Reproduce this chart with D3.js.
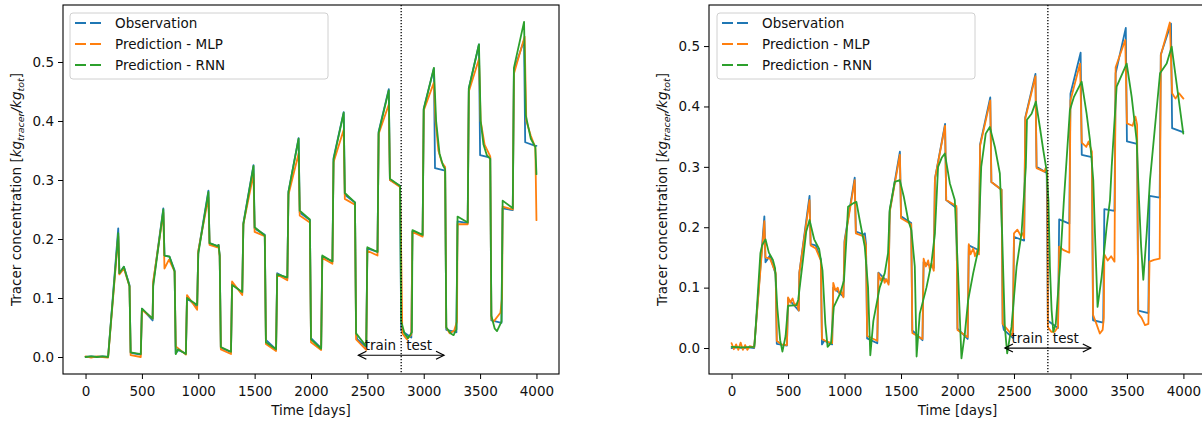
<!DOCTYPE html>
<html>
<head>
<meta charset="utf-8">
<script src="https://cdn.jsdelivr.net/npm/d3@7"></script>
<style>
  html, body { margin: 0; padding: 0; background: #fff; }
  svg { display: block; font-family: "DejaVu Sans", sans-serif; }
</style>
</head>
<body>
<svg id="chart" width="1202" height="423"></svg>
<script>
// Time axis ticks and concentration ticks
const dayTicks = [0, 500, 1000, 1500, 2000, 2500, 3000, 3500, 4000];
const concTicks = [0.0, 0.1, 0.2, 0.3, 0.4, 0.5];
const seriesNames = ["Observation", "Prediction - MLP", "Prediction - RNN"];
const seriesColors = ["#1f77b4", "#ff7f0e", "#2ca02c"];
const splitDay = 2800;

// Observed tracer concentration, [day, value]
const observation = [
  [0,0],[50,0.001],[100,0],[150,0.001],[200,0],
  [290,0.218],[300,0.142],[340,0.153],[390,0.122],
  [400,0.007],[490,0.004],
  [500,0.082],[595,0.062],
  [600,0.125],[690,0.252],[700,0.172],[745,0.17],[790,0.147],
  [800,0.006],[820,0.012],[890,0.006],
  [900,0.1],[990,0.085],
  [1000,0.178],[1090,0.282],[1100,0.193],[1170,0.188],[1180,0.19],[1190,0.172],
  [1200,0.016],[1290,0.008],
  [1300,0.125],[1390,0.108],
  [1400,0.227],[1490,0.325],[1500,0.218],[1590,0.207],
  [1600,0.029],[1690,0.013],
  [1700,0.142],[1790,0.133],
  [1800,0.28],[1890,0.371],[1900,0.245],[1990,0.232],
  [2000,0.032],[2090,0.015],
  [2100,0.17],[2190,0.162],
  [2200,0.337],[2290,0.415],[2300,0.275],[2390,0.262],
  [2400,0.04],[2410,0.03],[2490,0.017],
  [2500,0.184],[2590,0.178],
  [2600,0.382],[2690,0.454],[2700,0.3],[2790,0.29],
  [2800,0.045],[2890,0.033],
  [2900,0.213],[2990,0.206],
  [3000,0.421],[3090,0.489],[3100,0.32],[3190,0.316],
  [3200,0.046],[3290,0.042],
  [3300,0.23],[3390,0.227],
  [3400,0.455],[3490,0.53],[3500,0.342],[3590,0.338],
  [3600,0.062],[3690,0.058],
  [3700,0.252],[3790,0.249],
  [3800,0.486],[3890,0.537],[3900,0.364],[3990,0.358],[4000,0.358]
];

// Left panel predictions
const mlpLeft = [
  [0,0.001],[50,-0.001],[100,0.001],[150,0],[200,-0.001],
  [290,0.205],[300,0.14],[340,0.15],[390,0.12],
  [400,0.003],[490,0.0],
  [500,0.08],[595,0.065],
  [600,0.128],[690,0.245],[700,0.15],[740,0.165],[790,0.145],
  [800,0.018],[820,0.015],[890,0.004],
  [900,0.105],[990,0.08],
  [1000,0.18],[1090,0.27],[1100,0.19],[1170,0.186],[1180,0.188],[1190,0.17],
  [1200,0.013],[1290,0.005],
  [1300,0.128],[1390,0.105],
  [1400,0.225],[1490,0.31],[1500,0.212],[1590,0.205],
  [1600,0.022],[1690,0.01],
  [1700,0.14],[1790,0.13],
  [1800,0.275],[1890,0.345],[1900,0.24],[1990,0.228],
  [2000,0.025],[2090,0.012],
  [2100,0.168],[2190,0.158],
  [2200,0.33],[2290,0.385],[2300,0.268],[2390,0.258],
  [2400,0.03],[2490,0.012],
  [2500,0.18],[2590,0.172],
  [2600,0.378],[2690,0.428],[2700,0.3],[2790,0.288],
  [2800,0.178],[2810,0.04],[2850,0.03],[2890,0.038],
  [2900,0.212],[2990,0.204],
  [3000,0.418],[3090,0.465],[3105,0.4],[3130,0.35],[3160,0.33],[3190,0.322],
  [3200,0.05],[3230,0.04],[3270,0.045],[3295,0.06],
  [3300,0.225],[3390,0.225],
  [3400,0.45],[3490,0.505],[3505,0.4],[3540,0.36],[3590,0.34],
  [3600,0.065],[3620,0.06],[3680,0.075],[3695,0.1],
  [3700,0.255],[3790,0.25],
  [3800,0.48],[3895,0.543],[3910,0.4],[3950,0.375],[3990,0.355],[4000,0.232]
];

const rnnLeft = [
  [0,0],[50,0.001],[100,0],[150,0.001],[200,0],
  [290,0.21],[300,0.142],[340,0.153],[390,0.12],
  [400,0.008],[490,0.005],
  [500,0.082],[595,0.065],
  [600,0.12],[690,0.25],[700,0.172],[745,0.17],[790,0.145],
  [800,0.005],[820,0.013],[890,0.005],
  [900,0.1],[990,0.088],
  [1000,0.175],[1090,0.28],[1100,0.193],[1170,0.188],[1180,0.19],[1190,0.172],
  [1200,0.017],[1290,0.009],
  [1300,0.122],[1390,0.11],
  [1400,0.225],[1490,0.324],[1500,0.22],[1590,0.206],
  [1600,0.025],[1690,0.013],
  [1700,0.14],[1790,0.135],
  [1800,0.28],[1890,0.37],[1900,0.248],[1990,0.233],
  [2000,0.03],[2090,0.014],
  [2100,0.172],[2190,0.162],
  [2200,0.335],[2290,0.414],[2300,0.278],[2390,0.262],
  [2400,0.04],[2490,0.018],
  [2500,0.186],[2590,0.178],
  [2600,0.38],[2690,0.452],[2700,0.302],[2790,0.29],
  [2800,0.06],[2830,0.04],[2860,0.032],[2895,0.042],
  [2900,0.215],[2990,0.207],
  [3000,0.42],[3090,0.49],[3110,0.4],[3140,0.345],[3170,0.325],[3190,0.318],
  [3200,0.05],[3240,0.04],[3265,0.037],[3290,0.047],
  [3300,0.238],[3390,0.228],
  [3400,0.455],[3490,0.53],[3505,0.4],[3530,0.36],[3560,0.342],[3590,0.336],
  [3600,0.07],[3630,0.048],[3650,0.044],[3690,0.06],
  [3700,0.265],[3790,0.252],
  [3800,0.49],[3890,0.568],[3905,0.41],[3950,0.37],[3990,0.356],[4000,0.31]
];

// Right panel predictions
const mlpRight = [
  [0,0.008],[20,-0.002],[40,0.006],[60,-0.003],[80,0.009],[100,-0.003],[120,0.005],[140,-0.003],[160,0.003],[200,0.001],
  [290,0.21],[300,0.15],[340,0.148],[390,0.125],
  [400,0.012],[440,0.006],[490,0.005],
  [500,0.084],[520,0.075],[540,0.082],[560,0.07],[575,0.074],[595,0.062],
  [600,0.125],[690,0.245],[700,0.17],[745,0.165],[790,0.145],
  [800,0.015],[850,0.01],[890,0.008],
  [900,0.108],[920,0.095],[940,0.1],[955,0.09],[970,0.094],[990,0.084],
  [1000,0.175],[1090,0.278],[1100,0.19],[1170,0.185],[1190,0.17],
  [1200,0.02],[1290,0.012],
  [1300,0.124],[1320,0.112],[1340,0.118],[1355,0.108],[1370,0.114],[1390,0.105],
  [1400,0.225],[1490,0.32],[1500,0.215],[1590,0.205],
  [1600,0.025],[1690,0.015],
  [1700,0.148],[1720,0.135],[1740,0.145],[1755,0.13],[1770,0.14],[1790,0.128],
  [1800,0.28],[1890,0.368],[1900,0.245],[1990,0.235],
  [2000,0.03],[2090,0.018],
  [2100,0.172],[2115,0.155],[2140,0.165],[2155,0.152],[2175,0.162],[2190,0.155],
  [2200,0.335],[2290,0.41],[2300,0.275],[2390,0.262],
  [2400,0.04],[2490,0.02],
  [2500,0.19],[2530,0.196],[2560,0.186],[2575,0.19],[2590,0.182],
  [2600,0.38],[2690,0.45],[2700,0.298],[2770,0.292],[2780,0.298],[2795,0.29],
  [2800,0.035],[2830,0.027],[2860,0.027],[2890,0.035],
  [2900,0.168],[2940,0.162],[2990,0.158],
  [3000,0.41],[3085,0.471],[3100,0.34],[3140,0.333],[3160,0.342],[3190,0.325],
  [3200,0.055],[3230,0.04],[3260,0.024],[3285,0.03],[3295,0.05],
  [3300,0.155],[3330,0.145],[3360,0.152],[3390,0.143],
  [3400,0.465],[3485,0.51],[3500,0.372],[3550,0.368],[3575,0.383],[3590,0.37],
  [3600,0.057],[3630,0.05],[3660,0.038],[3690,0.04],
  [3700,0.143],[3740,0.146],[3790,0.148],
  [3800,0.485],[3880,0.539],[3900,0.422],[3930,0.413],[3960,0.422],[4000,0.413]
];

const rnnRight = [
  [0,0.002],[100,0.001],[200,0.002],
  [205,0.01],[255,0.157],[270,0.17],[300,0.18],[330,0.158],[366,0.146],[385,0.132],[405,0.066],[430,0.013],[450,-0.006],[478,0.02],
  [500,0.07],[575,0.071],[590,0.08],[632,0.146],[661,0.193],[690,0.212],[731,0.18],[775,0.164],[805,0.128],[830,0.04],[850,0.002],[880,0.008],
  [905,0.068],[960,0.09],[995,0.112],[1016,0.179],[1031,0.234],[1080,0.24],[1105,0.242],[1134,0.212],[1179,0.168],[1208,0.101],[1228,-0.012],[1255,0.045],
  [1311,0.1],[1356,0.124],[1385,0.157],[1400,0.229],[1444,0.275],[1489,0.278],[1524,0.251],[1563,0.212],[1592,0.195],[1622,0.135],[1638,-0.014],[1666,0.057],
  [1725,0.1],[1769,0.14],[1800,0.19],[1828,0.3],[1860,0.315],[1888,0.322],[1932,0.273],[1976,0.245],[2006,0.12],[2035,-0.017],[2065,0.024],
  [2094,0.079],[2139,0.124],[2183,0.162],[2210,0.3],[2250,0.355],[2286,0.366],[2331,0.333],[2375,0.289],[2395,0.19],[2419,0.035],[2440,-0.009],[2478,0.035],
  [2523,0.135],[2567,0.19],[2605,0.3],[2615,0.378],[2656,0.388],[2694,0.408],[2729,0.366],[2759,0.328],[2788,0.295],[2805,0.245],[2818,0.135],[2833,0.063],[2848,0.027],[2870,0.04],
  [2907,0.135],[2942,0.245],[2995,0.394],[3031,0.416],[3099,0.441],[3143,0.388],[3173,0.344],[3202,0.278],[3217,0.19],[3240,0.068],[3276,0.118],
  [3320,0.2],[3350,0.245],[3365,0.3],[3409,0.433],[3498,0.471],[3542,0.416],[3586,0.344],[3607,0.245],[3625,0.17],[3645,0.113],[3675,0.19],
  [3704,0.278],[3793,0.455],[3852,0.471],[3896,0.499],[3999,0.355]
];

const svg = d3.select("#chart");
const FONT = 13.5;

function drawPanel(cfg) {
  const { left, right, top, bottom, yDomain, series, legendX, legendW, yLabelX, arrowY, textY, clipId } = cfg;
  const x = d3.scaleLinear().domain([-200, 4200]).range([left, right]);
  const y = d3.scaleLinear().domain(yDomain).range([bottom, top]);
  const g = svg.append("g");

  g.append("clipPath").attr("id", clipId)
    .append("rect").attr("x", left).attr("y", top).attr("width", right - left).attr("height", bottom - top);

  const line = d3.line().x(d => x(d[0])).y(d => y(d[1]));
  const lines = g.append("g").attr("clip-path", `url(#${clipId})`);
  series.forEach((s, i) => {
    lines.append("path").datum(s)
      .attr("d", line)
      .attr("fill", "none")
      .attr("stroke", seriesColors[i])
      .attr("stroke-width", 1.8)
      .attr("stroke-linejoin", "round")
      .attr("stroke-linecap", "round");
  });

  // train/test split
  g.append("line")
    .attr("x1", x(splitDay)).attr("x2", x(splitDay))
    .attr("y1", top).attr("y2", bottom)
    .attr("stroke", "#000").attr("stroke-width", 1.3)
    .attr("stroke-dasharray", "1.3,1.7");

  // double arrow
  const ax1 = x(2420), ax2 = x(3180), ay = y(arrowY);
  const arrow = g.append("g").attr("stroke", "#000").attr("stroke-width", 1.2).attr("fill", "none");
  arrow.append("line").attr("x1", ax1).attr("x2", ax2).attr("y1", ay).attr("y2", ay);
  arrow.append("path").attr("d", `M${ax1 + 8},${ay - 4}L${ax1},${ay}L${ax1 + 8},${ay + 4}`);
  arrow.append("path").attr("d", `M${ax2 - 8},${ay - 4}L${ax2},${ay}L${ax2 - 8},${ay + 4}`);

  g.append("text").attr("x", x(splitDay) - 5).attr("y", y(textY))
    .attr("text-anchor", "end").attr("font-size", FONT).attr("fill", "#111").text("train");
  g.append("text").attr("x", x(splitDay) + 5).attr("y", y(textY))
    .attr("text-anchor", "start").attr("font-size", FONT).attr("fill", "#111").text("test");

  // frame
  g.append("rect").attr("x", left).attr("y", top)
    .attr("width", right - left).attr("height", bottom - top)
    .attr("fill", "none").attr("stroke", "#000").attr("stroke-width", 1.1);

  // axes
  const xa = g.append("g").attr("transform", `translate(0,${bottom})`)
    .call(d3.axisBottom(x).tickValues(dayTicks).tickSize(5).tickPadding(7).tickFormat(d3.format("d")));
  const ya = g.append("g").attr("transform", `translate(${left},0)`)
    .call(d3.axisLeft(y).tickValues(concTicks).tickSize(5).tickPadding(4).tickFormat(d3.format(".1f")));
  [xa, ya].forEach(a => {
    a.select(".domain").remove();
    a.selectAll("line").attr("stroke", "#000").attr("stroke-width", 1);
    a.selectAll("text").attr("font-size", FONT).attr("fill", "#111")
      .attr("font-family", "DejaVu Sans");
  });

  // axis titles
  g.append("text").attr("x", (left + right) / 2).attr("y", 415)
    .attr("text-anchor", "middle").attr("font-size", FONT).attr("fill", "#111").text("Time [days]");

  const yl = g.append("text")
    .attr("transform", `translate(${yLabelX},${(top + bottom) / 2}) rotate(-90)`)
    .attr("text-anchor", "middle").attr("dy", "0.35em")
    .attr("font-size", FONT).attr("fill", "#111");
  yl.append("tspan").text("Tracer concentration [");
  yl.append("tspan").attr("font-style", "italic").text("kg");
  yl.append("tspan").attr("font-style", "italic").attr("font-size", 9.5).attr("dy", 3).text("tracer");
  yl.append("tspan").attr("font-style", "italic").attr("dy", -3).text("/kg");
  yl.append("tspan").attr("font-style", "italic").attr("font-size", 9.5).attr("dy", 3).text("tot");
  yl.append("tspan").attr("dy", -3).text("]");

  // legend
  const lg = g.append("g");
  lg.append("rect").attr("x", legendX).attr("y", 13).attr("width", legendW).attr("height", 66)
    .attr("rx", 3).attr("fill", "#fff").attr("fill-opacity", 0.85)
    .attr("stroke", "#d0d0d0").attr("stroke-width", 1);
  seriesNames.forEach((name, i) => {
    const ly = 23 + i * 21;
    lg.append("line").attr("x1", legendX + 5).attr("x2", legendX + 35)
      .attr("y1", ly).attr("y2", ly)
      .attr("stroke", seriesColors[i]).attr("stroke-width", 1.8)
      .attr("stroke-dasharray", "11,4");
    lg.append("text").attr("x", legendX + 45).attr("y", ly).attr("dy", "0.36em")
      .attr("font-size", FONT).attr("fill", "#111").text(name);
  });
}

drawPanel({
  left: 63, right: 559, top: 5, bottom: 374,
  yDomain: [-0.0288, 0.5966],
  series: [observation, mlpLeft, rnnLeft],
  legendX: 70, legendW: 258, yLabelX: 16,
  arrowY: 0.003, textY: 0.012, clipId: "clipL"
});

drawPanel({
  left: 709, right: 1206, top: 5, bottom: 374,
  yDomain: [-0.043, 0.568],
  series: [observation, mlpRight, rnnRight],
  legendX: 717, legendW: 258, yLabelX: 662,
  arrowY: 0.0, textY: 0.009, clipId: "clipR"
});
</script>
</body>
</html>
